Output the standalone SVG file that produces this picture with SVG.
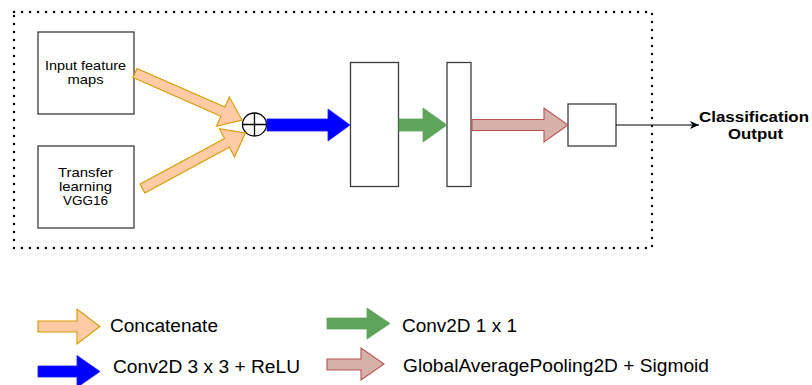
<svg xmlns="http://www.w3.org/2000/svg" width="812" height="385" viewBox="0 0 812 385">
<style>
.box{fill:#fff;stroke:#3c3c3c;stroke-width:1.3}
.t{font-family:"Liberation Sans",Arial,sans-serif;fill:#000}
.n{font-size:13.5px}
.lg{font-size:18px}
.b{font-size:14.5px;font-weight:bold}
.peach{fill:#ffcba4;stroke:#d79b00;stroke-width:1.1}
.blue{fill:#0000ff;stroke:#1a1aff;stroke-width:0.8}
.green{fill:#5ea55b;stroke:#5ea55b;stroke-width:0.8}
.red{fill:#d6b0aa;stroke:#b85450;stroke-width:1.1}
</style>
<defs>
<marker id="ah" markerWidth="10" markerHeight="10" refX="9" refY="5" orient="auto" markerUnits="userSpaceOnUse">
<path d="M0,1 L9,5 L0,9 L2.5,5 Z" fill="#000"/>
</marker>
</defs>
<rect x="14" y="12" width="638" height="236" fill="none" stroke="#000" stroke-width="2.4" stroke-dasharray="0.1 7.9" stroke-linecap="round"/>
<g id="node-input">
<rect class="box" x="38" y="32" width="96" height="82"/>
<text class="t n" x="85.5" y="70" text-anchor="middle" textLength="81" lengthAdjust="spacingAndGlyphs">Input feature</text>
<text class="t n" x="85.5" y="84" text-anchor="middle" textLength="36" lengthAdjust="spacingAndGlyphs">maps</text>
</g>
<g id="node-transfer">
<rect class="box" x="38" y="146" width="96" height="82"/>
<text class="t n" x="85.5" y="177" text-anchor="middle" textLength="55" lengthAdjust="spacingAndGlyphs">Transfer</text>
<text class="t n" x="85.5" y="191" text-anchor="middle" textLength="53" lengthAdjust="spacingAndGlyphs">learning</text>
<text class="t n" x="85.5" y="205" text-anchor="middle" textLength="45" lengthAdjust="spacingAndGlyphs">VGG16</text>
</g>
<g id="node-sum">
<ellipse cx="254.5" cy="124.5" rx="12" ry="11.5" fill="#fff" stroke="#000" stroke-width="1.3"/>
<path d="M242.5,124.5 H266.5 M254.5,113 V136" stroke="#000" stroke-width="1.3"/>
</g>
<g id="node-conv3">
<rect class="box" x="350.5" y="62.5" width="48" height="124"/>
</g>
<g id="node-conv1">
<rect class="box" x="447" y="62.5" width="24" height="124"/>
</g>
<g id="node-gap">
<rect class="box" x="568" y="104" width="48" height="42"/>
</g>
<g id="node-output">
<text class="t b" x="754" y="122" text-anchor="middle" textLength="110" lengthAdjust="spacingAndGlyphs">Classification</text>
<text class="t b" x="755.5" y="139" text-anchor="middle" textLength="55" lengthAdjust="spacingAndGlyphs">Output</text>
</g>
<g id="connectors">
<path class="peach" transform="translate(135,73) rotate(23.7)" d="M0,-5 H96 V-16 L117,0 L96,16 V5 H0 Z"/>
<path class="peach" transform="translate(142.5,188.5) rotate(-28.4)" d="M0,-5 H96 V-16 L117,0 L96,16 V5 H0 Z"/>
<path class="blue" d="M267,119 H328 V109 L350,125 L328,141 V131 H267 Z"/>
<path class="green" d="M399,119 H423 V108 L447,125 L423,142 V131 H399 Z"/>
<path class="red" d="M472,119.5 H544 V108 L568,125 L544,142 V130.5 H472 Z"/>
<line x1="616" y1="125" x2="699" y2="125" stroke="#000" stroke-width="1.2" marker-end="url(#ah)"/>
</g>
<g id="legend">
<path class="peach" d="M38,321 H77 V309 L100,326.5 L77,344 V332 H38 Z"/>
<text class="t lg" x="110" y="332" textLength="108" lengthAdjust="spacingAndGlyphs">Concatenate</text>
<path class="blue" d="M38,366 H77 V355.5 L100,371.5 L77,387.5 V377 H38 Z"/>
<text class="t lg" x="113" y="373" textLength="187" lengthAdjust="spacingAndGlyphs">Conv2D 3 x 3 + ReLU</text>
<path class="green" d="M327,318 H367 V308 L390,323.5 L367,339 V329 H327 Z"/>
<text class="t lg" x="402" y="332" textLength="115" lengthAdjust="spacingAndGlyphs">Conv2D 1 x 1</text>
<path class="red" d="M327,359 H361 V348 L384,364 L361,380 V370 H327 Z"/>
<text class="t lg" x="403" y="372" textLength="306" lengthAdjust="spacingAndGlyphs">GlobalAveragePooling2D + Sigmoid</text>
</g>
</svg>
